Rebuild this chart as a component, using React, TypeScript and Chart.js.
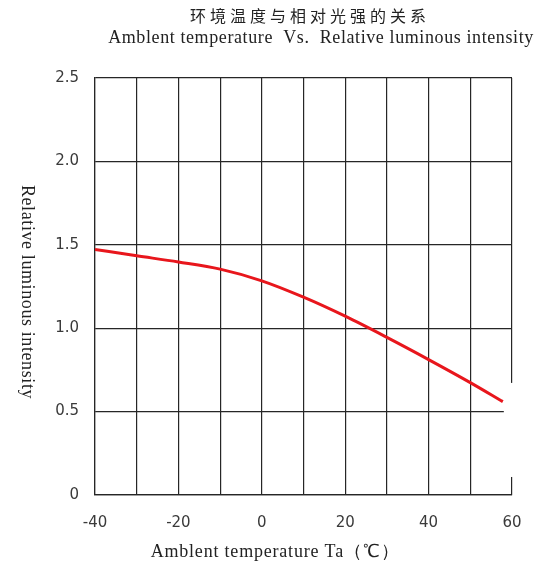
import React, { useEffect, useRef } from "react";
import { Chart, registerables } from "chart.js";

Chart.register(...registerables);

const titleCN = "环境温度与相对光强的关系";
const titleEN = "Amblent temperature  Vs.  Relative luminous intensity";
const xTitle = "Amblent temperature Ta（℃）";
const yTitle = "Relative luminous intensity";

const temperatures = [-40, -30, -20, -10, 0, 10, 20, 30, 40, 50, 57.8];
const intensities = [1.472, 1.434, 1.397, 1.354, 1.284, 1.186, 1.072, 0.945, 0.812, 0.674, 0.56];

const xTicks = [-40, -20, 0, 20, 40, 60];
const yTicks = [0, 0.5, 1.0, 1.5, 2.0, 2.5];

const gridColor = "#262626";
const tickColor = "#3a3a3a";
const lineColor = "#e8161c";

const textPlugin = {
  id: "textPlugin",
  beforeDatasetsDraw(chart: any) {
    // paper artifact: blank patch at the right edge of the plot
    const { ctx, scales } = chart;
    const xs = scales.x;
    const ys = scales.y;
    const x0 = xs.getPixelForValue(temperatures[temperatures.length - 1]) + 1;
    const yTop = ys.getPixelForValue(0.672);
    const yBot = ys.getPixelForValue(0.108);
    ctx.save();
    ctx.fillStyle = "#ffffff";
    ctx.fillRect(x0, yTop, 30, yBot - yTop);
    ctx.restore();
  },
  afterDraw(chart: any) {
    const { ctx } = chart;
    ctx.save();
    ctx.fillStyle = "#222";
    ctx.textBaseline = "middle";
    ctx.textAlign = "center";
    ctx.font = '16px "Noto Sans CJK SC"';
    (ctx as any).letterSpacing = "4px";
    ctx.fillText(titleCN, 310, 16);
    ctx.font = '18px "Liberation Serif"';
    (ctx as any).letterSpacing = "0.6px";
    ctx.fillText(titleEN, 321, 38);
    (ctx as any).letterSpacing = "0.8px";
    ctx.fillText(xTitle, 275, 552);
    (ctx as any).letterSpacing = "0.6px";
    ctx.translate(27, 292);
    ctx.rotate(Math.PI / 2);
    ctx.fillText(yTitle, 0, 0);
    ctx.restore();
  },
};

export default function App() {
  const ref = useRef<HTMLCanvasElement | null>(null);

  useEffect(() => {
    if (!ref.current) return;
    const chart = new Chart(ref.current, {
      type: "line",
      data: {
        datasets: [
          {
            data: temperatures.map((t, i) => ({ x: t, y: intensities[i] })),
            borderColor: lineColor,
            borderWidth: 3,
            pointRadius: 0,
            cubicInterpolationMode: "monotone",
            fill: false,
          },
        ],
      },
      options: {
        animation: false,
        responsive: true,
        maintainAspectRatio: false,
        layout: { padding: { top: 78, right: 22, bottom: 0, left: 0 } },
        plugins: {
          legend: { display: false },
          tooltip: { enabled: false },
          title: { display: false },
        },
        scales: {
          x: {
            type: "linear",
            min: -40,
            max: 60,
            afterBuildTicks: (scale: any) => {
              const all: any[] = [];
              for (let v = -40; v <= 60; v += 10) all.push({ value: v });
              scale.ticks = all;
            },
            afterFit: (scale: any) => {
              scale.height = 72;
            },
            grid: { color: gridColor, lineWidth: 1.2, drawTicks: true, tickLength: 15, tickColor: "rgba(0,0,0,0)" },
            border: { color: gridColor, width: 1.2 },
            ticks: {
              color: tickColor,
              font: { family: "DejaVu Sans", size: 15 },
              padding: 4,
              maxRotation: 0,
              autoSkip: false,
              callback: (v: any) => (xTicks.includes(Number(v)) ? String(v) : ""),
            },
          },
          y: {
            type: "linear",
            min: 0,
            max: 2.5,
            afterBuildTicks: (scale: any) => {
              scale.ticks = yTicks.map((v) => ({ value: v }));
            },
            afterFit: (scale: any) => {
              scale.width = 95;
            },
            grid: { color: gridColor, lineWidth: 1.2, drawTicks: false },
            border: { color: gridColor, width: 1.2 },
            ticks: {
              color: tickColor,
              font: { family: "DejaVu Sans", size: 15 },
              padding: 16,
              callback: (v: any) => (Number(v) === 0 ? "0" : Number(v).toFixed(1)),
            },
          },
        },
      },
      plugins: [textPlugin],
    });
    return () => chart.destroy();
  }, []);

  return (
    <div style={{ position: "absolute", left: 0, top: 0, width: 534, height: 567, background: "#fff" }}>
      <canvas ref={ref} />
    </div>
  );
}
